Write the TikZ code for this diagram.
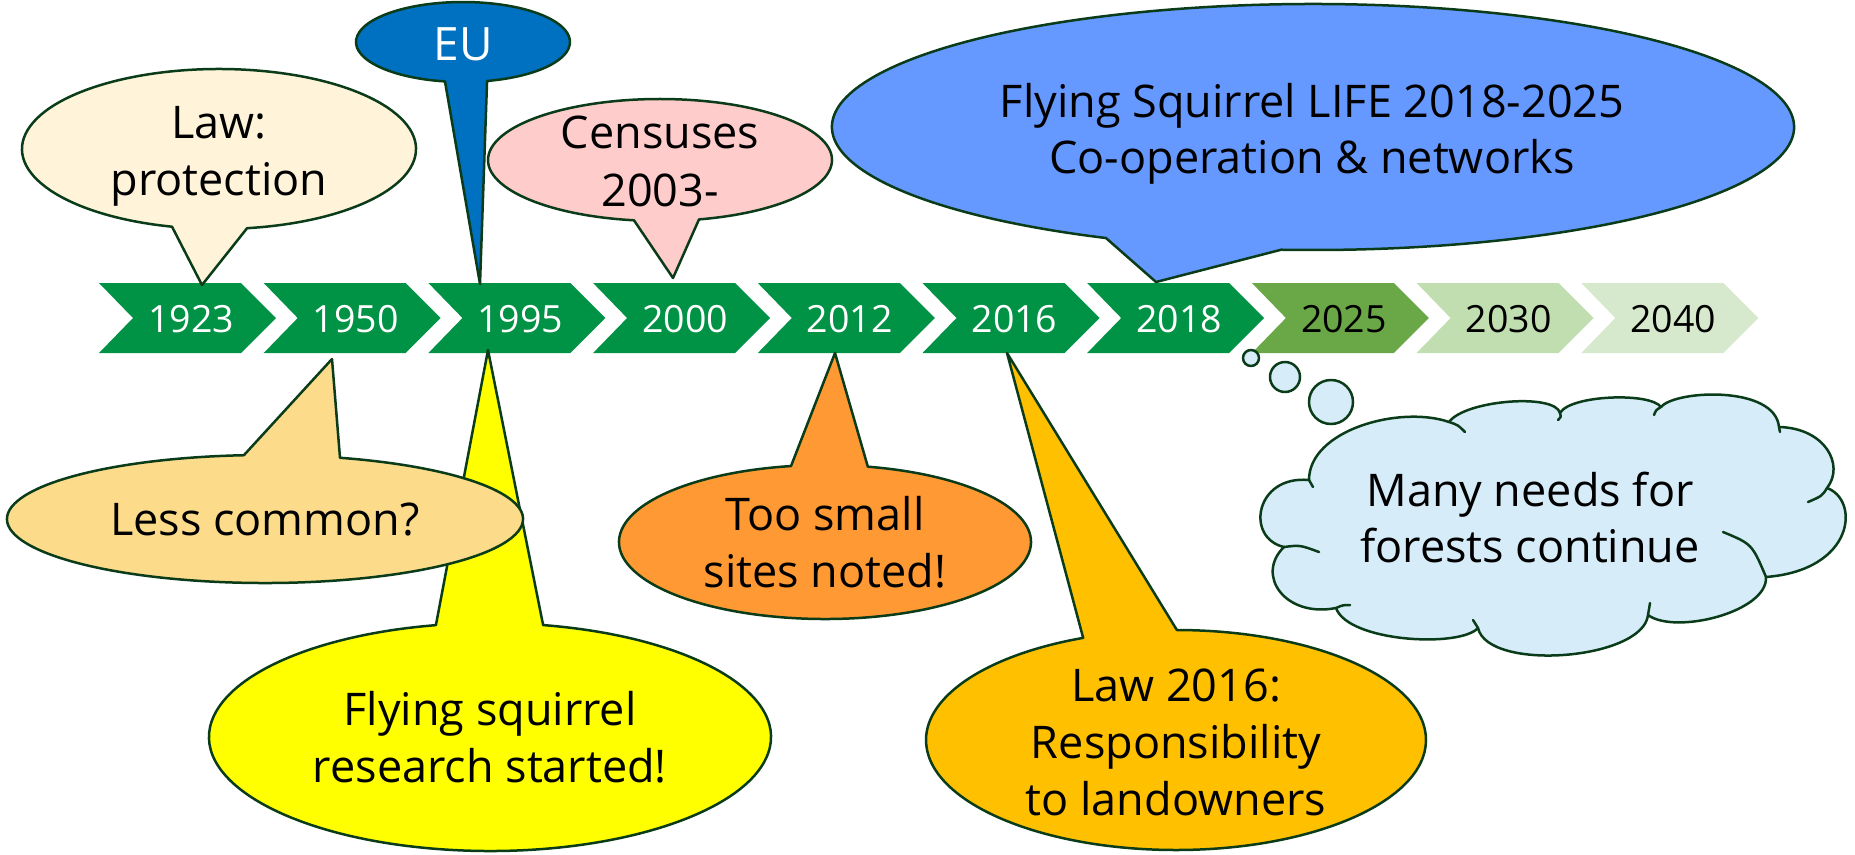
\documentclass[tikz,border=0pt]{standalone}
\usepackage{fontspec}
\setmainfont{Open Sans}
\usetikzlibrary{calc}
\definecolor{outl}{RGB}{10,60,25}
\definecolor{chg}{RGB}{0,146,69}
\definecolor{chb}{RGB}{106,167,70}
\definecolor{chc}{RGB}{193,222,176}
\definecolor{chd}{RGB}{214,233,205}
\definecolor{lawc}{RGB}{255,243,217}
\definecolor{euc}{RGB}{0,112,192}
\definecolor{cenc}{RGB}{255,204,204}
\definecolor{lifec}{RGB}{102,153,255}
\definecolor{lessc}{RGB}{252,219,139}
\definecolor{yelc}{RGB}{255,255,0}
\definecolor{orac}{RGB}{255,153,51}
\definecolor{l16c}{RGB}{255,192,0}
\definecolor{cloudc}{RGB}{214,236,249}
\tikzset{
  callout/.style={draw=outl, line width=2.5pt, line join=round},
  tail/.style={draw=outl, line width=2.5pt, line cap=round},
  lbl/.style={anchor=base, inner sep=0pt, font=\fontsize{45}{56}\selectfont},
  yrlbl/.style={anchor=base, inner sep=0pt, font=\fontsize{37.5}{45}\selectfont},
}
\begin{document}
\begin{tikzpicture}[x=1pt,y=-1pt]
\useasboundingbox (0,0) rectangle (1855,854);
% chevrons
\foreach \i/\yr/\fc/\tc in {0/1923/chg/white,1/1950/chg/white,2/1995/chg/white,3/2000/chg/white,4/2012/chg/white,5/2016/chg/white,6/2018/chg/white,7/2025/chb/black,8/2030/chc/black,9/2040/chd/black}{
  \pgfmathsetmacro\xa{99+164.7*\i}
  \fill[\fc] (\xa,283) -- ++(142,0) -- ++(35,35) -- ++(-35,35) -- ++(-142,0) -- ++(34,-35) -- cycle;
  \node[yrlbl, text=\tc] (y\yr) at (\xa+92,332) {\yr};
}
% top callouts
\path[callout, fill=lawc, shift={(219,149)}] (-17,136) -- (103.8:197 and 80) arc[start angle=103.8, end angle=441.8, x radius=197, y radius=80] -- cycle;
\node[lbl] (law1) at (219,138) {Law:};
\node[lbl] (law2) at (219,195) {protection};

\path[callout, fill=euc, shift={(463,42)}] (17,242) -- (99.7:107 and 40) arc[start angle=99.7, end angle=437, x radius=107, y radius=40] -- cycle;
\node[lbl, text=white, font=\fontsize{46}{56}\selectfont] (eu) at (463,60) {EU};

\path[callout, fill=cenc, shift={(660,160)}] (13,118) -- (98.7:172 and 61) arc[start angle=98.7, end angle=436.9, x radius=172, y radius=61] -- cycle;
\node[lbl] (cen1) at (660,148) {Censuses};
\node[lbl] (cen2) at (660,206) {2003-};

\path[callout, fill=lifec, shift={(1313,127)}] (-157,155) -- (115.5:481 and 123) arc[start angle=115.5, end angle=453.8, x radius=481, y radius=123] -- cycle;
\node[lbl] (life1) at (1312,117) {Flying Squirrel LIFE 2018-2025};
\node[lbl] (life2) at (1312,173) {Co-operation \& networks};

% bottom callouts
\path[callout, fill=yelc, shift={(490,737)}] (-2,-387) -- (280.9:281 and 114) arc[start angle=280.9, end angle=618.9, x radius=281, y radius=114] -- cycle;
\node[lbl] (fs1) at (490,725) {Flying squirrel};
\node[lbl] (fs2) at (490,782) {research started!};

\path[callout, fill=lessc, shift={(265,519)}] (67,-160) -- (286.9:258 and 64) arc[start angle=286.9, end angle=625.3, x radius=258, y radius=64] -- cycle;
\node[lbl] (less) at (265,535) {Less common?};

\path[callout, fill=orac, shift={(825,542)}] (10,-189) -- (282:206 and 77) arc[start angle=282, end angle=620.5, x radius=206, y radius=77] -- cycle;
\node[lbl] (too1) at (825,530) {Too small};
\node[lbl] (too2) at (825,587) {sites noted!};

\path[callout, fill=l16c, shift={(1176,740)}] (-169,-387) -- (270.2:250 and 110) arc[start angle=270.2, end angle=608.2, x radius=250, y radius=110] -- cycle;
\node[lbl] (l161) at (1176,701) {Law 2016:};
\node[lbl] (l162) at (1176,758) {Responsibility};
\node[lbl] (l163) at (1176,815) {to landowners};

% thought cloud
\path[callout, fill=cloudc] (1251,358) circle[radius=8];
\path[callout, fill=cloudc] (1285,377) circle[radius=15];
\path[callout, fill=cloudc] (1331,402) circle[radius=22];
\path[callout, fill=cloudc] (1309,480) .. controls (1309,430) and (1400,405) .. (1449,422)
 .. controls (1465,400) and (1555,393) .. (1560,413)
 .. controls (1570,395) and (1650,392) .. (1661,407)
 .. controls (1675,390) and (1775,385) .. (1779,427)
 .. controls (1825,428) and (1845,465) .. (1827,488)
 .. controls (1860,500) and (1855,570) .. (1766,577)
 .. controls (1768,612) and (1675,635) .. (1648,615)
 .. controls (1643,660) and (1488,672) .. (1478,628)
 .. controls (1460,648) and (1348,642) .. (1336,608)
 .. controls (1285,618) and (1255,575) .. (1284,547)
 .. controls (1245,538) and (1255,475) .. (1309,480) -- cycle;
\draw[tail] (1449,422) .. controls (1458,425) .. (1465,432);
\draw[tail] (1560,413) .. controls (1561,417) .. (1558,420);
\draw[tail] (1654,415) .. controls (1656,410) .. (1661,407);
\draw[tail] (1779,427) -- (1780,432);
\draw[tail] (1827,488) .. controls (1822,496) .. (1808,502);
\draw[tail] (1723,532) .. controls (1752,544) .. (1766,577);
\draw[tail] (1650,603) -- (1648,615);
\draw[tail] (1478,628) .. controls (1475,624) .. (1473,620);
\draw[tail] (1350,605) .. controls (1343,605) .. (1336,608);
\draw[tail] (1319,552) .. controls (1300,545) .. (1284,547);
\draw[tail] (1313,487) -- (1309,480);
\node[lbl] (cl1) at (1530,506) {Many needs for};
\node[lbl] (cl2) at (1530,562) {forests continue};
\end{tikzpicture}
\end{document}
